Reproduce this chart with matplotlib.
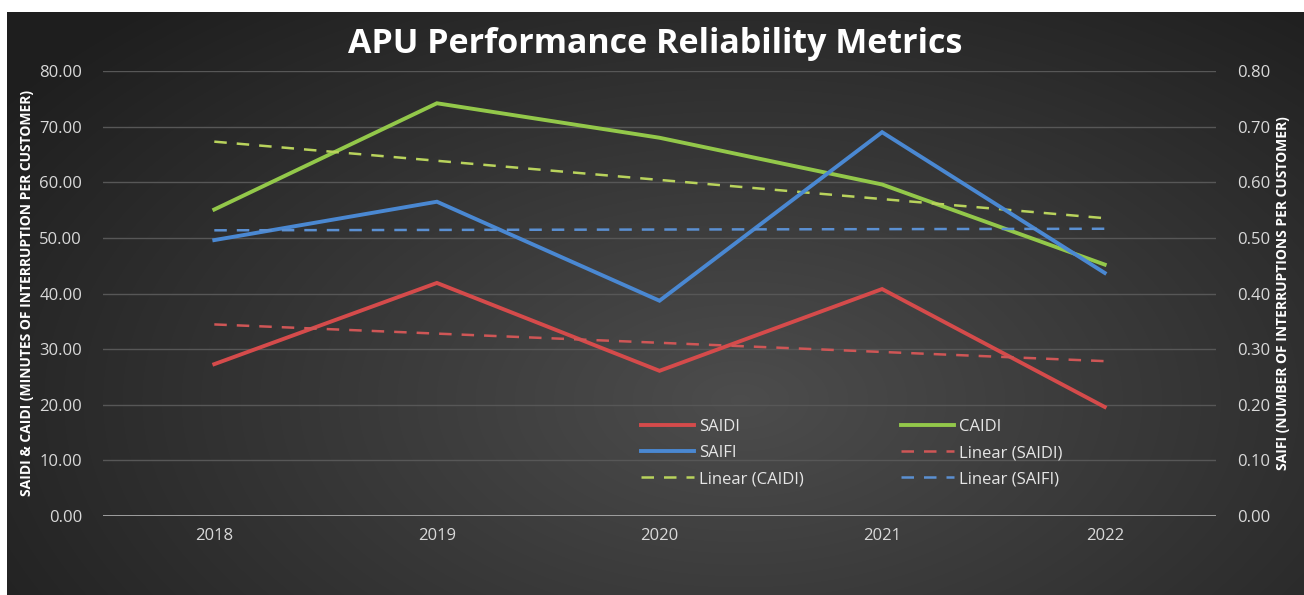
import matplotlib.pyplot as plt
import numpy as np

years = ['2018', '2019', '2020', '2021', '2022']
saidi = [27.3, 41.9, 26.1, 40.8, 19.6]
caidi = [55.1, 74.2, 68.0, 59.6, 45.2]
saifi = [0.496, 0.565, 0.387, 0.690, 0.437]

red, green, blue = '#d54b4b', '#93c84a', '#4a88d2'
red_t, green_t, blue_t = '#cf5656', '#b9d35c', '#5b90d2'
tick_col = '#d9d9d9'

W, H = 1304, 595
fig = plt.figure(figsize=(W / 100, H / 100), dpi=100, facecolor='white')

# dark radial background panel
bg = fig.add_axes([0, 0, 1, 1], zorder=-10)
yy, xx = np.mgrid[0:H, 0:W]
r = np.sqrt(((xx - 740) / 900) ** 2 + ((yy - 400) / 520) ** 2)
shade = np.clip(0.30 - 0.18 * r, 0.12, 0.30)
img = np.dstack([shade, shade, shade])
img[:12, :, :] = 1.0
img[:, :7, :] = 1.0
bg.imshow(img, extent=[0, W, H, 0], aspect='auto', interpolation='bilinear')
bg.set_xlim(0, W)
bg.set_ylim(H, 0)
bg.axis('off')

ax = fig.add_axes([103 / W, 1 - 516 / H, (1216 - 103) / W, (516 - 71) / H])
ax.set_facecolor('none')
ax2 = ax.twinx()

x = np.arange(len(years))

l1, = ax.plot(x, saidi, color=red, lw=2.8, label='SAIDI', solid_joinstyle='miter')
l2, = ax.plot(x, caidi, color=green, lw=2.8, label='CAIDI', solid_joinstyle='miter')
l3, = ax2.plot(x, saifi, color=blue, lw=2.8, label='SAIFI', solid_joinstyle='miter')

# Excel-style linear trendlines
fit_saidi = np.polyval(np.polyfit(x, saidi, 1), x)
fit_caidi = np.polyval(np.polyfit(x, caidi, 1), x)
fit_saifi = np.polyval(np.polyfit(x, saifi, 1), x)
t1, = ax.plot(x, fit_saidi, color=red_t, lw=1.8, ls=(0, (5, 4)), label='Linear (SAIDI)')
t2, = ax.plot(x, fit_caidi, color=green_t, lw=1.8, ls=(0, (5, 4)), label='Linear (CAIDI)')
t3, = ax2.plot(x, fit_saifi, color=blue_t, lw=1.8, ls=(0, (5, 4)), label='Linear (SAIFI)')

ax.set_xlim(-0.5, 4.5)
ax.set_ylim(0, 80)
ax2.set_ylim(0, 0.8)
ax.set_yticks(np.arange(0, 81, 10))
ax2.set_yticks(np.arange(0, 0.81, 0.1))
ax.set_yticklabels([f'{v:.2f}' for v in np.arange(0, 81, 10)])
ax2.set_yticklabels([f'{v:.2f}' for v in np.arange(0, 0.81, 0.1)])
ax.set_xticks(x)
ax.set_xticklabels(years)

ax.grid(axis='y', color='#575757', lw=1)
ax.set_axisbelow(True)
for a in (ax, ax2):
    for s in a.spines.values():
        s.set_visible(False)
    a.tick_params(length=0, colors=tick_col, labelsize=12)
    for lab in a.get_xticklabels() + a.get_yticklabels():
        lab.set_family('Open Sans')
ax.tick_params(axis='y', pad=15)
ax2.tick_params(axis='y', pad=15)
ax.tick_params(axis='x', pad=9)
ax.axhline(0, color='#a8a8a8', lw=2, zorder=1)

ax.set_ylabel('SAIDI & CAIDI (MINUTES OF INTERRUPTION PER CUSTOMER)', color='white',
              fontsize=10, fontweight='bold', family='Open Sans', labelpad=4)
ax2.set_ylabel('SAIFI (NUMBER OF INTERRUPTIONS PER CUSTOMER)', color='white',
               fontsize=10, fontweight='bold', family='Open Sans', labelpad=4)

fig.text(655 / W, 1 - 44 / H, 'APU Performance Reliability Metrics', color='white',
         fontsize=24.5, fontweight='bold', family='Open Sans', ha='center', va='center')

leg = ax.legend(handles=[l1, l3, t2, l2, t1, t3], ncol=2, frameon=False,
                loc='upper left', bbox_to_anchor=(626 / W, 1 - 404 / H),
                bbox_transform=fig.transFigure, handlelength=3.2, handletextpad=0.3,
                columnspacing=5.8, labelspacing=0.6, prop={'family': 'Open Sans', 'size': 12})
for t in leg.get_texts():
    t.set_color('#e6e6e6')

fig.savefig('out.png', dpi=100, facecolor='white')
